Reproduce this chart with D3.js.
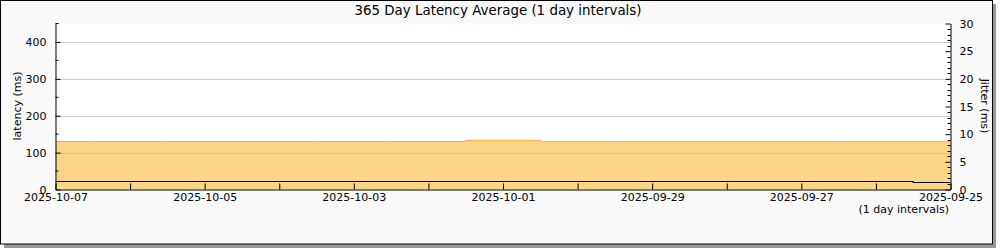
<!DOCTYPE html>
<html>
<head>
<meta charset="utf-8">
<script src="https://cdn.jsdelivr.net/npm/d3@7"></script>
<style>
  body { margin: 0; background: #fff; }
  text { font-family: "DejaVu Sans", sans-serif; fill: #000; }
</style>
</head>
<body>
<div id="chart"></div>
<script>
const width = 1000;
const height = 250;

// Daily points, newest on the left
const days = ["2025-10-07", "2025-10-06", "2025-10-05", "2025-10-04", "2025-10-03",
  "2025-10-02", "2025-10-01", "2025-09-30", "2025-09-29", "2025-09-28",
  "2025-09-27", "2025-09-26", "2025-09-25"];
const latency = [129.8, 129.8, 129.8, 129.8, 129.8, 129.8, 133.5, 129.6, 129.6, 129.6, 129.6, 129.6, 129.6];
const jitter = [1.45, 1.45, 1.45, 1.45, 1.45, 1.45, 1.45, 1.45, 1.45, 1.45, 1.45, 1.45, 1.27];
const latencyTicks = [0, 100, 200, 300, 400];
const jitterTicks = [0, 5, 10, 15, 20, 25, 30];

const margin = { left: 55.5, right: 950.5, top: 23.5, bottom: 189.5 };

const parse = d3.timeParse("%Y-%m-%d");
const data = days.map((d, i) => ({ date: parse(d), lat: latency[i], jit: jitter[i] }));

const x = d3.scaleTime()
  .domain([parse(days[0]), parse(days[days.length - 1])])
  .range([margin.left, margin.right]);
const y = d3.scaleLinear().domain([0, 450]).range([margin.bottom, margin.top]);
const yj = d3.scaleLinear().domain([0, 30]).range([margin.bottom, margin.top]);

const svg = d3.select("#chart").append("svg")
  .attr("width", width)
  .attr("height", height);

// Frame with shadow
svg.append("rect").attr("x", 4).attr("y", 4).attr("width", 992).attr("height", 244).attr("fill", "#999");
svg.append("rect").attr("x", 0.5).attr("y", 0.5).attr("width", 992).attr("height", 243.5)
  .attr("fill", "#f9f9f9").attr("stroke", "#000");

// Plot background
svg.append("rect")
  .attr("x", margin.left).attr("y", margin.top)
  .attr("width", margin.right - margin.left).attr("height", margin.bottom - margin.top)
  .attr("fill", "#fff");

// Gridlines
svg.append("g").selectAll("line")
  .data(latencyTicks.filter(d => d > 0))
  .join("line")
  .attr("x1", margin.left).attr("x2", margin.right)
  .attr("y1", d => Math.round(y(d)) + 0.5).attr("y2", d => Math.round(y(d)) + 0.5)
  .attr("stroke", "#ccc");

// Latency area (stepped, centred on each day)
const area = d3.area()
  .curve(d3.curveStep)
  .x(d => x(d.date))
  .y0(y(0))
  .y1(d => y(d.lat));
svg.append("path").datum(data)
  .attr("d", area)
  .attr("fill", "#fcb935")
  .attr("fill-opacity", 0.6);

const topLine = d3.line().curve(d3.curveStep).x(d => x(d.date)).y(d => y(d.lat));
svg.append("path").datum(data)
  .attr("d", topLine)
  .attr("fill", "none")
  .attr("stroke", "#f2b02a")
  .attr("stroke-width", 1);

// Jitter line
const jitLine = d3.line().curve(d3.curveStep).x(d => x(d.date)).y(d => Math.round(yj(d.jit)) + 0.5);
svg.append("path").datum(data)
  .attr("d", jitLine)
  .attr("fill", "none")
  .attr("stroke", "#000")
  .attr("stroke-width", 1.2);

// Left axis
const yAxis = svg.append("g")
  .attr("transform", `translate(${margin.left},0)`)
  .call(d3.axisLeft(y).tickValues(latencyTicks).tickSizeInner(-5).tickSizeOuter(0).tickPadding(9));
yAxis.select(".domain").attr("stroke", "#000");
yAxis.selectAll("text").style("font-size", "11px");
svg.append("g").selectAll("line")
  .data([50, 150, 250, 350, 450])
  .join("line")
  .attr("x1", margin.left).attr("x2", margin.left + 3)
  .attr("y1", d => y(d)).attr("y2", d => y(d))
  .attr("stroke", "#000");

// Right axis
const yjAxis = svg.append("g")
  .attr("transform", `translate(${margin.right},0)`)
  .call(d3.axisRight(yj).tickValues(jitterTicks).tickSizeInner(-5).tickSizeOuter(0).tickPadding(9));
yjAxis.select(".domain").attr("stroke", "#000");
yjAxis.selectAll("text").style("font-size", "11px");
svg.append("g").selectAll("line")
  .data(d3.range(0, 31).filter(d => d % 5 !== 0))
  .join("line")
  .attr("x1", margin.right).attr("x2", margin.right - 3)
  .attr("y1", d => Math.round(yj(d)) + 0.5).attr("y2", d => Math.round(yj(d)) + 0.5)
  .attr("stroke", "#000");

// Bottom axis
const xAxis = svg.append("g")
  .attr("transform", `translate(0,${margin.bottom})`)
  .call(d3.axisBottom(x)
    .tickValues(data.map(d => d.date))
    .tickSizeInner(-6).tickSizeOuter(0).tickPadding(4)
    .tickFormat((d, i) => i % 2 === 0 ? d3.timeFormat("%Y-%m-%d")(d) : ""));
xAxis.select(".domain").attr("stroke", "#000");
xAxis.selectAll("text").style("font-size", "11px");

// Title and labels
svg.append("text")
  .attr("x", 498).attr("y", 15)
  .attr("text-anchor", "middle")
  .style("font-size", "13.4px")
  .text("365 Day Latency Average (1 day intervals)");

svg.append("text")
  .attr("transform", `translate(21,106) rotate(-90)`)
  .attr("text-anchor", "middle")
  .style("font-size", "11px")
  .text("latency (ms)");

svg.append("text")
  .attr("transform", `translate(981,106) rotate(90)`)
  .attr("text-anchor", "middle")
  .style("font-size", "11px")
  .text("Jitter (ms)");

svg.append("text")
  .attr("x", 949).attr("y", 213)
  .attr("text-anchor", "end")
  .style("font-size", "11px")
  .text("(1 day intervals)");
</script>
</body>
</html>
